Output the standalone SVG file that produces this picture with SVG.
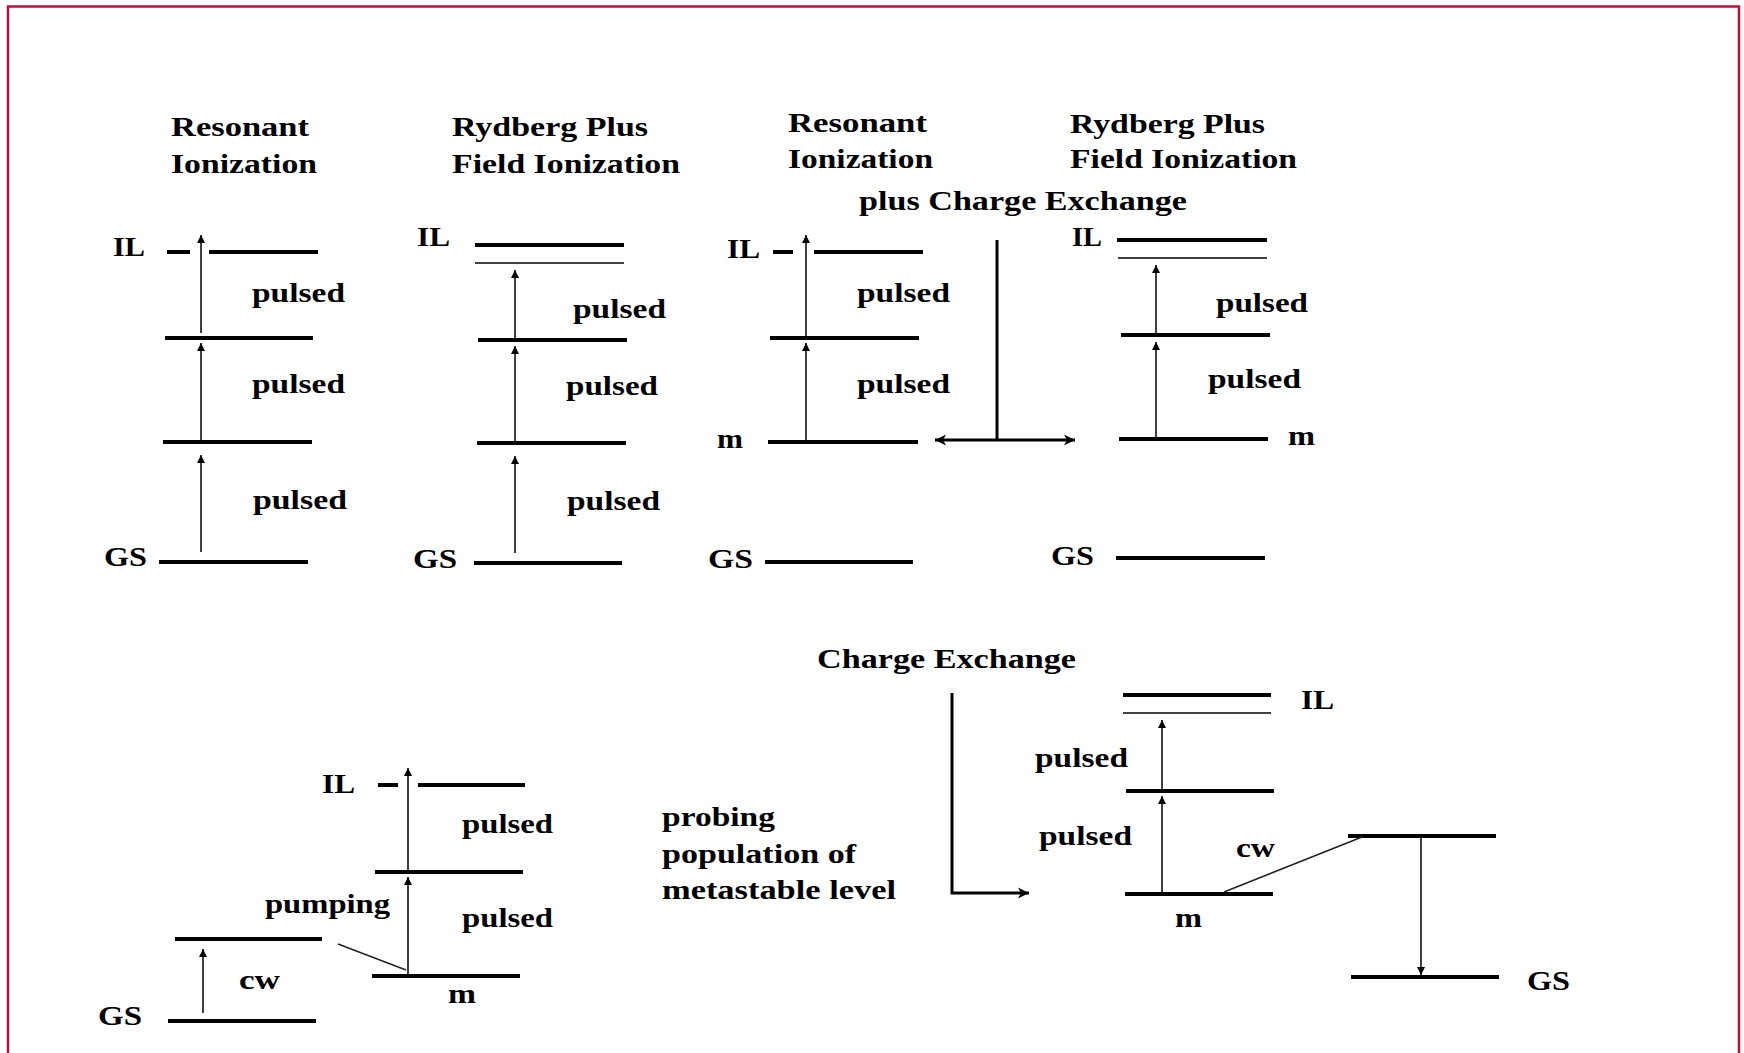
<svg xmlns="http://www.w3.org/2000/svg" width="1744" height="1053" viewBox="0 0 1744 1053">
<style>
text{font-family:"Liberation Serif","Times New Roman",serif;font-weight:bold;font-size:28px;fill:#000}
.lv{stroke:#000;stroke-width:4;fill:none}
.th{stroke:#000;stroke-width:1.5;fill:none}
.ar{stroke:#000;stroke-width:1.5;fill:none;marker-end:url(#ah)}
.cn{stroke:#000;stroke-width:3;fill:none}
.sl{stroke:#222;stroke-width:1.5;fill:none}
</style>
<defs>
<marker id="ah" markerUnits="userSpaceOnUse" markerWidth="8" markerHeight="8" refX="8" refY="4" orient="auto">
<path d="M0,0 L8,4 L0,8 z" fill="#000"/>
</marker>
<marker id="ahb" markerUnits="userSpaceOnUse" markerWidth="12" markerHeight="12" refX="11" refY="6" orient="auto-start-reverse">
<path d="M0,0.5 L11,6 L0,11.5 L3,6 z" fill="#000"/>
</marker>
</defs>
<rect width="1744" height="1053" fill="#fff"/>
<path d="M8,1053 V6.5 H1739 V1053" fill="none" stroke="#b8123c" stroke-width="2.5"/>

<g id="titles">
<text x="171" y="136" textLength="138" lengthAdjust="spacingAndGlyphs">Resonant</text>
<text x="171" y="173" textLength="146" lengthAdjust="spacingAndGlyphs">Ionization</text>
<text x="452" y="136" textLength="196" lengthAdjust="spacingAndGlyphs">Rydberg Plus</text>
<text x="452" y="173" textLength="228" lengthAdjust="spacingAndGlyphs">Field Ionization</text>
<text x="788" y="132" textLength="139" lengthAdjust="spacingAndGlyphs">Resonant</text>
<text x="788" y="168" textLength="145" lengthAdjust="spacingAndGlyphs">Ionization</text>
<text x="1070" y="133" textLength="195" lengthAdjust="spacingAndGlyphs">Rydberg Plus</text>
<text x="1070" y="168" textLength="227" lengthAdjust="spacingAndGlyphs">Field Ionization</text>
<text x="859" y="210" textLength="328" lengthAdjust="spacingAndGlyphs">plus Charge Exchange</text>
<text x="817" y="668" textLength="259" lengthAdjust="spacingAndGlyphs">Charge Exchange</text>
<text x="662" y="826" textLength="113" lengthAdjust="spacingAndGlyphs">probing</text>
<text x="662" y="863" textLength="194" lengthAdjust="spacingAndGlyphs">population of</text>
<text x="662" y="899" textLength="234" lengthAdjust="spacingAndGlyphs">metastable level</text>
</g>

<g id="diagram1">
<line class="lv" x1="167" y1="252" x2="190" y2="252"/>
<line class="lv" x1="209" y1="252" x2="318" y2="252"/>
<line class="lv" x1="165" y1="338" x2="313" y2="338"/>
<line class="lv" x1="163" y1="442" x2="312" y2="442"/>
<line class="lv" x1="159" y1="562" x2="308" y2="562"/>
<line class="ar" x1="201" y1="333" x2="201" y2="235"/>
<line class="ar" x1="201" y1="442" x2="201" y2="343"/>
<line class="ar" x1="201" y1="552" x2="201" y2="455"/>
<text x="113" y="256" textLength="32" lengthAdjust="spacingAndGlyphs">IL</text>
<text x="252" y="302" textLength="93" lengthAdjust="spacingAndGlyphs">pulsed</text>
<text x="252" y="393" textLength="93" lengthAdjust="spacingAndGlyphs">pulsed</text>
<text x="253" y="509" textLength="94" lengthAdjust="spacingAndGlyphs">pulsed</text>
<text x="104" y="566" textLength="43" lengthAdjust="spacingAndGlyphs">GS</text>
</g>

<g id="diagram2">
<line class="lv" x1="475" y1="245" x2="624" y2="245"/>
<line class="th" x1="475" y1="263" x2="624" y2="263"/>
<line class="lv" x1="478" y1="340" x2="627" y2="340"/>
<line class="lv" x1="477" y1="443" x2="626" y2="443"/>
<line class="lv" x1="474" y1="563" x2="622" y2="563"/>
<line class="ar" x1="515" y1="339" x2="515" y2="270"/>
<line class="ar" x1="515" y1="443" x2="515" y2="346"/>
<line class="ar" x1="515" y1="553" x2="515" y2="456"/>
<text x="417" y="246" textLength="33" lengthAdjust="spacingAndGlyphs">IL</text>
<text x="573" y="318" textLength="93" lengthAdjust="spacingAndGlyphs">pulsed</text>
<text x="566" y="395" textLength="92" lengthAdjust="spacingAndGlyphs">pulsed</text>
<text x="567" y="510" textLength="93" lengthAdjust="spacingAndGlyphs">pulsed</text>
<text x="413" y="568" textLength="44" lengthAdjust="spacingAndGlyphs">GS</text>
</g>

<g id="diagram3">
<line class="lv" x1="773" y1="252" x2="793" y2="252"/>
<line class="lv" x1="814" y1="252" x2="923" y2="252"/>
<line class="lv" x1="770" y1="338" x2="919" y2="338"/>
<line class="lv" x1="768" y1="442" x2="918" y2="442"/>
<line class="lv" x1="765" y1="562" x2="913" y2="562"/>
<line class="ar" x1="806" y1="338" x2="806" y2="235"/>
<line class="ar" x1="806" y1="442" x2="806" y2="343"/>
<text x="727" y="258" textLength="33" lengthAdjust="spacingAndGlyphs">IL</text>
<text x="857" y="302" textLength="93" lengthAdjust="spacingAndGlyphs">pulsed</text>
<text x="857" y="393" textLength="93" lengthAdjust="spacingAndGlyphs">pulsed</text>
<text x="717" y="448" textLength="26" lengthAdjust="spacingAndGlyphs">m</text>
<text x="708" y="568" textLength="45" lengthAdjust="spacingAndGlyphs">GS</text>
</g>

<g id="diagram4">
<line class="lv" x1="1117" y1="240" x2="1267" y2="240"/>
<line class="th" x1="1118" y1="258" x2="1267" y2="258"/>
<line class="lv" x1="1121" y1="335" x2="1270" y2="335"/>
<line class="lv" x1="1119" y1="439" x2="1268" y2="439"/>
<line class="lv" x1="1116" y1="558" x2="1265" y2="558"/>
<line class="ar" x1="1156" y1="335" x2="1156" y2="265"/>
<line class="ar" x1="1156" y1="439" x2="1156" y2="342"/>
<text x="1072" y="246" textLength="30" lengthAdjust="spacingAndGlyphs">IL</text>
<text x="1216" y="312" textLength="92" lengthAdjust="spacingAndGlyphs">pulsed</text>
<text x="1208" y="388" textLength="93" lengthAdjust="spacingAndGlyphs">pulsed</text>
<text x="1288" y="445" textLength="27" lengthAdjust="spacingAndGlyphs">m</text>
<text x="1051" y="565" textLength="43" lengthAdjust="spacingAndGlyphs">GS</text>
</g>

<g id="diagram5">
<line class="lv" x1="378" y1="785" x2="398" y2="785"/>
<line class="lv" x1="418" y1="785" x2="525" y2="785"/>
<line class="lv" x1="375" y1="872" x2="523" y2="872"/>
<line class="lv" x1="175" y1="939" x2="322" y2="939"/>
<line class="lv" x1="372" y1="976" x2="520" y2="976"/>
<line class="lv" x1="168" y1="1021" x2="316" y2="1021"/>
<line class="ar" x1="408" y1="872" x2="408" y2="768"/>
<line class="ar" x1="408" y1="976" x2="408" y2="877"/>
<line class="ar" x1="203" y1="1013" x2="203" y2="949"/>
<line class="sl" x1="338" y1="944" x2="406" y2="970"/>
<text x="322" y="793" textLength="33" lengthAdjust="spacingAndGlyphs">IL</text>
<text x="462" y="833" textLength="91" lengthAdjust="spacingAndGlyphs">pulsed</text>
<text x="265" y="913" textLength="125" lengthAdjust="spacingAndGlyphs">pumping</text>
<text x="462" y="927" textLength="91" lengthAdjust="spacingAndGlyphs">pulsed</text>
<text x="239" y="989" textLength="41" lengthAdjust="spacingAndGlyphs">cw</text>
<text x="448" y="1003" textLength="28" lengthAdjust="spacingAndGlyphs">m</text>
<text x="98" y="1025" textLength="44" lengthAdjust="spacingAndGlyphs">GS</text>
</g>

<g id="diagram6">
<line class="lv" x1="1123" y1="695" x2="1271" y2="695"/>
<line class="th" x1="1123" y1="713" x2="1271" y2="713"/>
<line class="lv" x1="1126" y1="791" x2="1274" y2="791"/>
<line class="lv" x1="1125" y1="894" x2="1273" y2="894"/>
<line class="lv" x1="1348" y1="836" x2="1496" y2="836"/>
<line class="lv" x1="1351" y1="977" x2="1499" y2="977"/>
<line class="ar" x1="1162" y1="790" x2="1162" y2="720"/>
<line class="ar" x1="1162" y1="894" x2="1162" y2="796"/>
<line class="ar" x1="1421" y1="836" x2="1421" y2="975"/>
<line class="sl" x1="1224" y1="892" x2="1362" y2="837"/>
<text x="1301" y="709" textLength="33" lengthAdjust="spacingAndGlyphs">IL</text>
<text x="1035" y="767" textLength="93" lengthAdjust="spacingAndGlyphs">pulsed</text>
<text x="1039" y="845" textLength="93" lengthAdjust="spacingAndGlyphs">pulsed</text>
<text x="1236" y="857" textLength="39" lengthAdjust="spacingAndGlyphs">cw</text>
<text x="1175" y="927" textLength="27" lengthAdjust="spacingAndGlyphs">m</text>
<text x="1527" y="990" textLength="43" lengthAdjust="spacingAndGlyphs">GS</text>
</g>

<g id="connectors">
<line class="cn" x1="997" y1="240" x2="997" y2="440"/>
<line class="cn" x1="935" y1="440" x2="1075" y2="440" marker-start="url(#ahb)" marker-end="url(#ahb)"/>
<polyline class="cn" points="952,693 952,893 1029,893" marker-end="url(#ahb)"/>
</g>
</svg>
